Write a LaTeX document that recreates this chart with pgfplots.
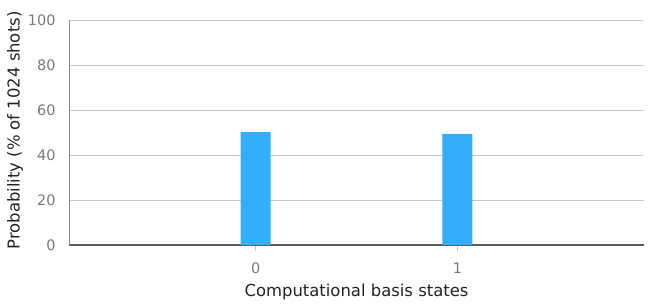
\documentclass[border=0pt]{standalone}
\usepackage{pgfplots}
\pgfplotsset{compat=1.18}
\usepackage{fontspec}
\setmainfont{DejaVu Sans}
\definecolor{barblue}{RGB}{52,174,248}
\definecolor{gridc}{RGB}{200,200,200}
\definecolor{tickc}{RGB}{120,120,120}
\definecolor{labc}{RGB}{34,34,34}
\begin{document}
\begin{tikzpicture}
\begin{axis}[
  name=ax,
  scale only axis,
  width=575bp, height=225bp,
  xmin=-0.925, xmax=1.925,
  ymin=0, ymax=100,
  xtick={0,1}, xticklabels={0,1},
  ytick={0,20,40,60,80,100},
  axis x line*=bottom, axis y line*=left,
  x axis line style={-, draw=black!65, line width=1.6bp},
  y axis line style={-, draw=black!45, line width=0.9bp},
  ymajorgrids,
  grid style={gridc, line width=0.9bp},
  tick align=outside,
  major tick length=6bp,
  xtick style={draw=gridc, line width=0.9bp},
  ytick style={draw=none},
  ticklabel style={font=\fontsize{14.5}{16}\selectfont, text=tickc},
  /pgf/number format/assume math mode=true,
  yticklabel style={xshift=-4bp},
  xticklabel style={yshift=-8bp},
  xlabel={Computational basis states},
  ylabel={Probability (\% of 1024 shots)},
  label style={font=\fontsize{16.5}{18}\selectfont, text=labc},
  xlabel style={at={(axis description cs:0.5,0)}, anchor=center, yshift=-47bp},
  ylabel style={at={(axis description cs:0,0.5)}, anchor=center, yshift=54bp, xshift=2bp},
  clip=false,
]
\addplot[ybar, bar width=0.148, fill=barblue, draw=none] coordinates {(0,50.2) (1,49.4)};
\end{axis}
\pgfresetboundingbox
\path ([xshift=-69bp,yshift=-62bp]ax.south west) rectangle ([xshift=10bp,yshift=20bp]ax.north east);
\end{tikzpicture}
\end{document}
